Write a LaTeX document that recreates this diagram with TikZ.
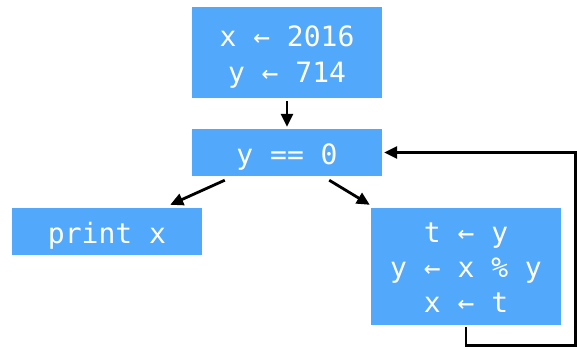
\documentclass[tikz,border=0pt]{standalone}
\usepackage{fontspec}
\setmonofont{DejaVu Sans Mono}
\definecolor{boxblue}{RGB}{82,168,250}
\usetikzlibrary{arrows.meta,positioning,calc}
\newcommand{\topstrut}{\rule{0pt}{30pt}}
\newcommand{\botstrut}{\rule[-7pt]{0pt}{7pt}}

\begin{document}
\begin{tikzpicture}[x=1pt,y=-1pt,
  codebox/.style={fill=boxblue, text=white, minimum width=190pt, align=center,
    font=\fontsize{28}{36}\ttfamily, inner sep=0pt},
  arr/.style={-{Triangle[length=13pt,width=12pt]}, line width=2.8pt}]
  \useasboundingbox (0,0) rectangle (577,348);

  %% Boxes
  \node[codebox, minimum height=91pt] (init) at (287,52.5) {\topstrut x ← 2016\\y ← 714\botstrut};
  \node[codebox, minimum height=47pt] (cond) at (287,152.5) {\topstrut y == 0\botstrut};
  \node[codebox, minimum height=47pt] (print) at (107,231.5) {\topstrut print x\botstrut};
  \node[codebox, minimum height=117pt, font=\fontsize{28}{35}\ttfamily] (body) at (466,266.5)
    {\rule{0pt}{28pt}t ← y\\y ← x \% y\\x ← t\botstrut};

  %% Arrows
  \draw[arr, shorten <=3pt, shorten >=2pt] (init.south) -- (cond.north);
  \draw[arr] ([xshift=33pt,yshift=-4pt]cond.south west) -- ([xshift=-32pt,yshift=3pt]print.north east);
  \draw[arr] ([xshift=-53pt,yshift=-4pt]cond.south east) -- ([xshift=-1pt,yshift=3pt]body.north west);

  %% Loop back
  \coordinate (loopright) at (575.6,345.4);
  \draw[arr, shorten >=2pt] ([yshift=-2pt]body.south) |- (loopright) |- (cond.east);
\end{tikzpicture}
\end{document}
